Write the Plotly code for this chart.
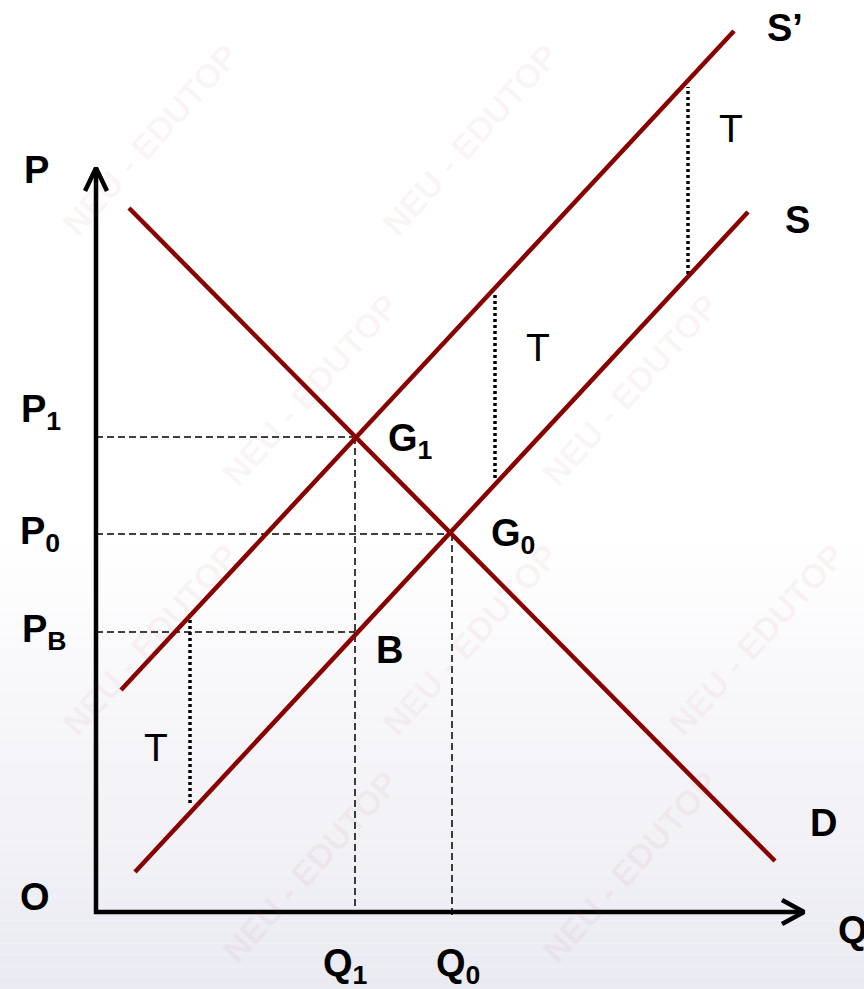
import plotly.graph_objects as go

# ---- data (economic units, origin at O) ----
demand_q = [33, 679]
demand_p = [704, 51]
supply_q = [39, 652]
supply_p = [40, 700]
supply_tax_q = [25, 638]
supply_tax_p = [222, 881]

Q1, Q0 = 259, 356
P1, P0, PB = 475, 378, 280

tax_q = [94, 399, 592]
tax_bottom = [109, 434, 638]
tax_top = [300, 620, 825]

axis_p_max = 744
axis_q_max = 708

RED = "#880000"
FONT = "Liberation Sans, Arial, sans-serif"

fig = go.Figure()

# background gradient bands (white top to pale lavender bottom)
shapes = []
n = 40
y_top, y_bot = 380, -77
for i in range(n):
    t = (i + 0.5) / n
    c0 = (255, 255, 255)
    c1 = (234, 234, 242)
    c = tuple(int(round(c0[k] + (c1[k] - c0[k]) * t)) for k in range(3))
    ya = y_top + (y_bot - y_top) * i / n
    yb = y_top + (y_bot - y_top) * (i + 1) / n
    shapes.append(dict(type="rect", xref="x", yref="y", x0=-96, x1=768,
                       y0=yb, y1=ya, fillcolor="rgb(%d,%d,%d)" % c,
                       line=dict(width=0), layer="below"))

# faint watermarks (positions in pixel-like offsets from origin)
wm_pos = [(54, 772), (374, 772), (214, 522), (534, 522),
          (54, 272), (374, 272), (660, 272), (214, 45), (534, 45)]
annotations = []
for (wx, wy) in wm_pos:
    annotations.append(dict(x=wx, y=wy, xref="x", yref="y", text="<b>NEU - EDUTOP</b>",
                            showarrow=False, textangle=-48,
                            font=dict(family=FONT, size=34, color="rgba(190,90,90,0.06)")))

# dashed guide lines
dash_style = dict(color="black", width=1.5, dash="7px,4px")
fig.add_trace(go.Scatter(x=[0, Q1], y=[P1, P1], mode="lines", line=dash_style))
fig.add_trace(go.Scatter(x=[0, Q0], y=[P0, P0], mode="lines", line=dash_style))
fig.add_trace(go.Scatter(x=[0, Q1], y=[PB, PB], mode="lines", line=dash_style))
fig.add_trace(go.Scatter(x=[Q1, Q1], y=[P1, 0], mode="lines", line=dash_style))
fig.add_trace(go.Scatter(x=[Q0, Q0], y=[P0, -7], mode="lines", line=dash_style))

# tax dotted lines
for q, b, t in zip(tax_q, tax_bottom, tax_top):
    fig.add_trace(go.Scatter(x=[q, q], y=[b, t], mode="lines",
                             line=dict(color="black", width=3.5, dash="3px,3px")))

# curves
for xs, ys in [(demand_q, demand_p), (supply_q, supply_p), (supply_tax_q, supply_tax_p)]:
    fig.add_trace(go.Scatter(x=xs, y=ys, mode="lines", line=dict(color=RED, width=4.5)))

# axes with arrowheads
ax_line = dict(color="black", width=4.5)
fig.add_trace(go.Scatter(x=[0, 0, axis_q_max], y=[axis_p_max, 0, 0], mode="lines", line=ax_line))
fig.add_trace(go.Scatter(x=[-11, 0, 11], y=[axis_p_max - 23, axis_p_max, axis_p_max - 23],
                         mode="lines", line=ax_line))
fig.add_trace(go.Scatter(x=[axis_q_max - 22, axis_q_max, axis_q_max - 22], y=[12, 0, -12],
                         mode="lines", line=ax_line))

def lab(x, y, text, bold=True, size=38, xanchor="center"):
    t = "<b>%s</b>" % text if bold else text
    annotations.append(dict(x=x, y=y, xref="x", yref="y", text=t, showarrow=False,
                            xanchor=xanchor, yanchor="middle",
                            font=dict(family=FONT, size=size, color="black")))

lab(-60, 742, "P")
lab(-55, 500, "P<sub>1</sub>")
lab(-56, 378, "P<sub>0</sub>")
lab(-52, 280, "P<sub>B</sub>")
lab(-61, 15, "O")
lab(249, -54, "Q<sub>1</sub>")
lab(362, -54, "Q<sub>0</sub>")
lab(740, -18, "Q", xanchor="left")
lab(689, 884, "S’")
lab(701, 692, "S")
lab(727, 89, "D")
lab(314, 471, "G<sub>1</sub>")
lab(417, 376, "G<sub>0</sub>")
lab(293, 262, "B")
lab(635, 784, "T", bold=False, size=39)
lab(442, 565, "T", bold=False, size=39)
lab(60, 165, "T", bold=False, size=39)

fig.update_layout(
    width=864, height=989,
    margin=dict(l=0, r=0, t=0, b=0),
    paper_bgcolor="white", plot_bgcolor="white",
    showlegend=False,
    xaxis=dict(range=[-96, 768], visible=False, fixedrange=True),
    yaxis=dict(range=[-77, 912], visible=False, fixedrange=True),
    shapes=shapes,
    annotations=annotations,
)

fig.write_html("out.html", config={"displayModeBar": False},
               post_script="document.body.style.margin='0';document.body.style.overflow='hidden';")
